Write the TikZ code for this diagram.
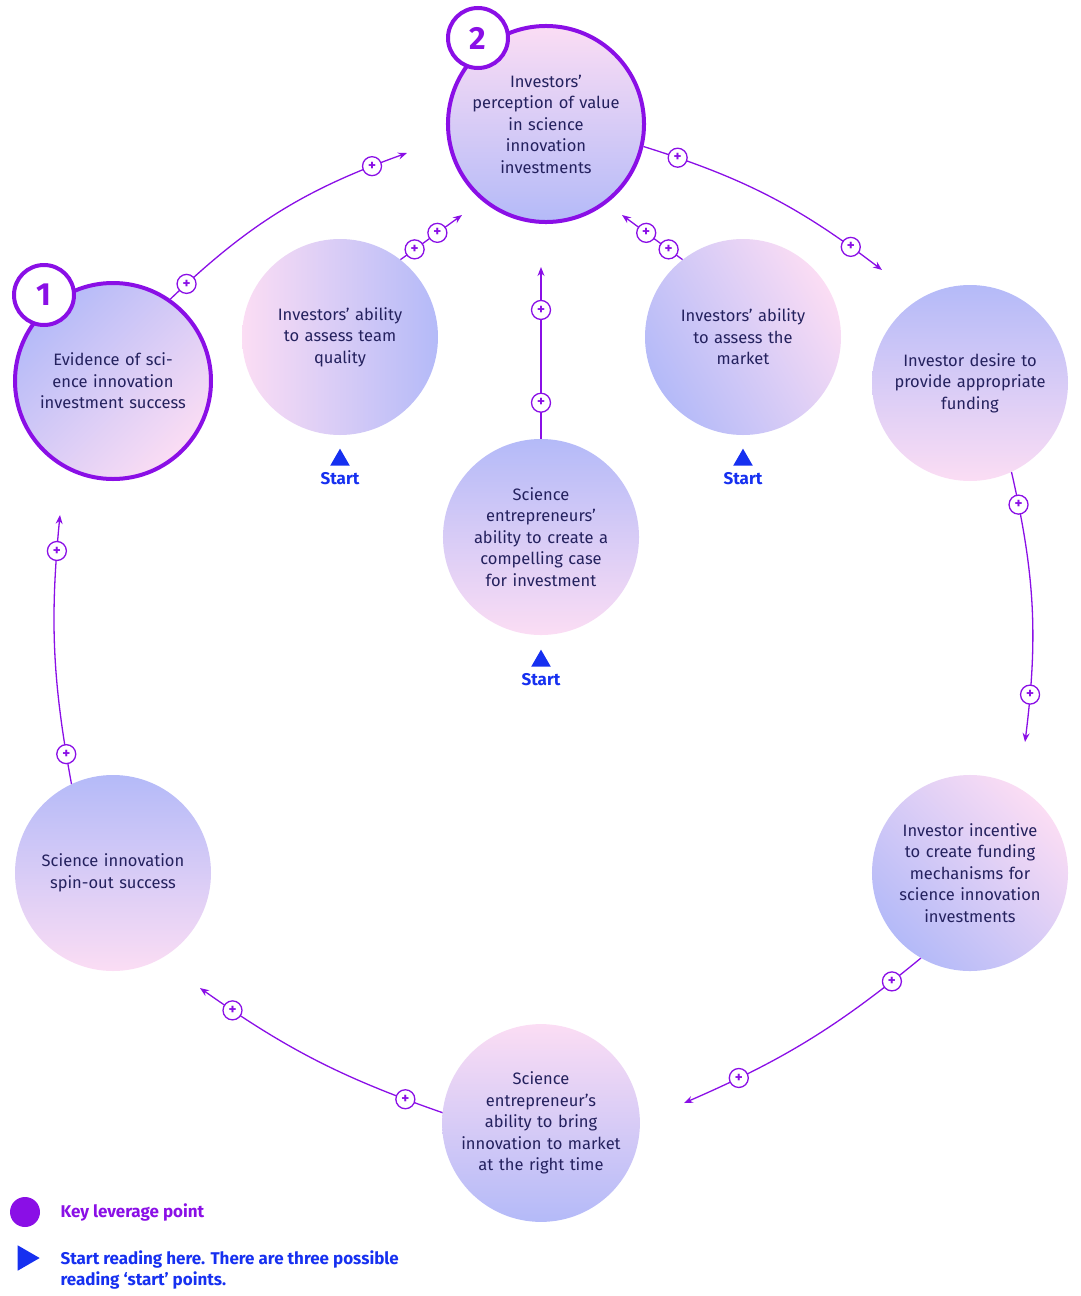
\documentclass[tikz,border=0pt]{standalone}
\usepackage{fontspec}
\setmainfont{Fira Sans}
\usetikzlibrary{arrows.meta}
\definecolor{lpurple}{HTML}{8A0FE6}
\definecolor{lpink}{HTML}{FBDDF4}
\definecolor{lblue}{HTML}{B4BAF8}
\definecolor{ltext}{HTML}{24215E}
\definecolor{sblue}{HTML}{1630F0}
\tikzset{
  factor/.style={circle, minimum size=196pt, inner sep=0pt, text width=170pt, align=center,
    text=ltext, font=\fontsize{16.5}{21.5}\selectfont, shading=axis, left color=lpink, right color=lblue},
  keyfactor/.style={factor, draw=lpurple, line width=4pt},
  badge/.style={circle, draw=lpurple, line width=4pt, fill=white, minimum size=60pt, inner sep=0pt,
    text=lpurple, font=\bfseries\fontsize{32}{32}\selectfont},
  link/.style={draw=lpurple, line width=1.3pt, -{Stealth[length=9pt,width=7pt]}},
  plus/.style={circle, draw=lpurple, line width=1.3pt, fill=white, minimum size=19pt, inner sep=0pt,
    text=lpurple, font=\bfseries\fontsize{15}{15}\selectfont, label={center:}},
  start/.style={text=sblue, font=\bfseries\fontsize{17}{17}\selectfont},
  tri/.style={fill=sblue, isosceles triangle, isosceles triangle apex angle=60, inner sep=0pt, minimum size=17pt}
}
\usetikzlibrary{shapes.geometric}
\begin{document}
\begin{tikzpicture}[x=1pt, y=-1pt]
\useasboundingbox (0,0) rectangle (1080,1296);
% factors
\node[keyfactor, shading angle=225] (evidence) at (113,381) {Evidence of science innovation investment success};
\node[keyfactor, shading angle=0, top color=lpink, bottom color=lblue] (value) at (546,124) {Investors'\\perception of value\\in science\\innovation\\investments};
\node[factor, shading angle=90] (team) at (340,337) {Investors' ability\\to assess team\\quality};
\node[factor, shading angle=300] (market) at (743,337) {Investors' ability\\to assess the\\market};
\node[factor, top color=lblue, bottom color=lpink] (case) at (541,537) {Science\\entrepreneurs'\\ability to create a\\compelling case\\for investment};
\node[factor, top color=lblue, bottom color=lpink] (desire) at (970,383) {Investor desire to\\provide appropriate\\funding};
\node[factor, shading angle=315] (incentive) at (970,873) {Investor incentive\\to create funding\\mechanisms for\\science innovation\\investments};
\node[factor, top color=lpink, bottom color=lblue] (timing) at (541,1123) {Science\\entrepreneur's\\ability to bring\\innovation to market\\at the right time};
\node[factor, top color=lblue, bottom color=lpink] (spinout) at (113,873) {Science innovation\\spin-out success};
% badges
\node[badge] (one) at (44,295) {1};
\node[badge] (two) at (478,38) {2};
% free ends
\coordinate (evidenceEnd) at (407,153);
\coordinate (teamEnd) at (462,215);
\coordinate (marketEnd) at (622,215);
\coordinate (caseEnd) at (541,267);
\coordinate (desireEnd) at (882,270);
\coordinate (incentiveEnd) at (1025,742);
\coordinate (timingEnd) at (684,1103);
\coordinate (spinoutEnd) at (200,988);
\coordinate (evidenceIn) at (60,515);
% links
\draw[link] (evidence.55) to[bend left=12] node[plus, pos=0.07] {+} node[plus, pos=0.88] {+} (evidenceEnd);
\draw[link] (team.52) -- node[plus, pos=0.23] {+} node[plus, pos=0.6] {+} (teamEnd);
\draw[link] (market.128) -- node[plus, pos=0.23] {+} node[plus, pos=0.6] {+} (marketEnd);
\draw[link] (case.north) -- node[plus, pos=0.21] {+} node[plus, pos=0.75] {+} (caseEnd);
\draw[link] (value.-13) to[bend left=10] node[plus, pos=0.12] {+} node[plus, pos=0.87] {+} (desireEnd);
\draw[link] (desire.-65) to[bend left=10] node[plus, pos=0.11] {+} node[plus, pos=0.84] {+} (incentiveEnd);
\draw[link] (incentive.-120) to[bend left=8] node[plus, pos=0.12] {+} node[plus, pos=0.8] {+} (timingEnd);
\draw[link] (timing.174) to[bend left=8] node[plus, pos=0.13] {+} node[plus, pos=0.87] {+} (spinoutEnd);
\draw[link] (spinout.115) to[bend left=8] node[plus, pos=0.1] {+} node[plus, pos=0.88] {+} (evidenceIn);
% start points
\foreach \x/\y/\n in {340/460/a, 743/460/b, 541/661/c} {
  \node[tri, shape border rotate=90] (tri\n) at (\x,\y) {};
  \node[start, below=3pt] (start\n) at (tri\n.south) {Start};
}
% legend
\node[circle, fill=lpurple, minimum size=30pt, inner sep=0pt] (keydot) at (25,1212) {};
\node[anchor=west, text=lpurple, font=\bfseries\fontsize{17}{17}\selectfont] (keytext) at (57,1212) {Key leverage point};
\node[tri, minimum size=22pt] (keytri) at (25,1258) {};
\node[anchor=north west, text=sblue, font=\bfseries\fontsize{17}{21.5}\selectfont, align=left] (starttext) at (57,1247) {Start reading here. There are three possible\\reading ‘start’ points.};
\end{tikzpicture}
\end{document}
